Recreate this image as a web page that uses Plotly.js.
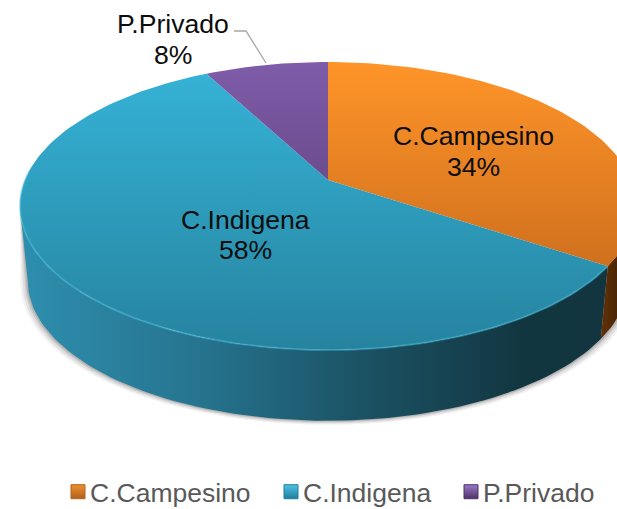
<!DOCTYPE html>
<html><head><meta charset="utf-8">
<script src="https://cdn.plot.ly/plotly-3.0.1.min.js"></script>
<style>html,body{margin:0;padding:0;background:#fff;overflow:hidden;height:509px}#c{width:617px;height:516px}</style></head>
<body><div id="c"></div>
<script>
const categories = ["C.Campesino","C.Indigena","P.Privado"];
const values = [34.4,57.9,7.7];
const topGrad = [["#ff9529","#bd6119"],["#36b4d8","#26839f"],["#7f5ca9","#523368"]];
const legendTop = ["#f0912f","#4fc3e4","#9a78c8"];
const legendBottom = ["#b0601c","#1f7f9c","#4d3268"];
const legendTextX = [90,303,483];
const sideBlue = [[0,"#2e8eae"],[0.3,"#26748f"],[0.55,"#1c5568"],[0.85,"#123640"],[1,"#123540"]];
const sideOrange = [[0,"#6b3608"],[1,"#4a2607"]];
const labelX = [473,245,173];
const labelNameY = [136,220,24];
const labelPctY = [167,250,55];
const view = {cx:328,cy:180,a:303,b:139.3,k:0.1806,depth:75,shrink:0.975};

function rim(phiDeg,lower){
  const p=phiDeg*Math.PI/180,u=Math.cos(p),v=Math.sin(p),d=1+view.k*v;
  const s=lower?view.shrink:1,y0=view.cy+(lower?view.depth:0);
  return [view.cx+s*view.a*u/d, y0-s*view.b*v/d];
}
function arc(from,to,lower){
  const n=Math.max(2,Math.ceil(Math.abs(to-from)/1.5)),xs=[],ys=[];
  for(let i=0;i<=n;i++){const q=rim(from+(to-from)*i/n,lower);xs.push(q[0]);ys.push(q[1]);}
  return [xs,ys];
}
function wall(from,to,grad,start,stop){
  const [tx,ty]=arc(from,to,false),[bx,by]=arc(to,from,true);
  return {x:tx.concat(bx),y:ty.concat(by),mode:"lines",fill:"toself",line:{width:0},
    fillgradient:{type:"horizontal",start:start,stop:stop,colorscale:grad},hoverinfo:"skip",showlegend:false};
}
const total=values.reduce((s,v)=>s+v,0);
const boundary=90-values[0]/total*360; // orange / blue split on the rim
const silhouette=-180+Math.asin(view.k)*180/Math.PI; // where the rim is widest on the left
let angle=90;
const slices=[];
categories.forEach((c,i)=>{
  const sweep=values[i]/total*360,start=angle,end=angle-sweep;angle=end;
  const [rx,ry]=arc(start,end,false);
  slices.push({x:[view.cx].concat(rx,[view.cx]),y:[view.cy].concat(ry,[view.cy]),mode:"lines",fill:"toself",line:{width:0},
    fillgradient:{type:"vertical",start:62,stop:350,colorscale:[[0,topGrad[i][0]],[1,topGrad[i][1]]]},hoverinfo:"skip",showlegend:false});
});
const shadows=[[7,0.05],[5,0.07],[3,0.09],[1.5,0.12]].map(([g,o])=>{
  const [x,y]=arc(silhouette,0,true),[tx,ty]=arc(0,silhouette,false);
  return {x:x.map(v=>view.cx+(v-view.cx)*(1+g/300)).concat(tx),y:y.map(v=>v+g*0.6).concat(ty),mode:"lines",fill:"toself",line:{width:0},fillcolor:"rgba(0,0,0,"+o+")",hoverinfo:"skip",showlegend:false};
});
const walls=[wall(boundary,silhouette,sideBlue,22,612),wall(boundary,8,sideOrange,595,617)];
const [ex,ey]=arc(boundary,-184,false);
const edge={x:ex,y:ey,mode:"lines",line:{width:2,color:"rgba(70,190,225,0.45)"},hoverinfo:"skip",showlegend:false};
const leader={x:[234,246,266],y:[31,31,63],mode:"lines",line:{width:1.3,color:"#a6a6a6"},hoverinfo:"skip",showlegend:false};
const legendTraces=categories.map((c,i)=>({x:[null],y:[null],name:c,mode:"markers",
  marker:{symbol:"square",size:14,color:legendTop[i],gradient:{type:"vertical",color:legendBottom[i]},line:{width:1,color:legendBottom[i]}},hoverinfo:"skip",showlegend:true}));
const annotations=[];
categories.forEach((c,i)=>{
  annotations.push({x:labelX[i],y:labelNameY[i],text:c,showarrow:false,xanchor:"center",yanchor:"middle",font:{size:26.6,color:"#0d0d0d"}});
  annotations.push({x:labelX[i],y:labelPctY[i],text:Math.round(values[i])+"%",showarrow:false,xanchor:"center",yanchor:"middle",font:{size:26.6,color:"#0d0d0d"}});
});
const hidden=r=>({range:r,visible:false,fixedrange:true});
Plotly.newPlot("c",shadows.concat(walls,slices,[edge,leader],legendTraces),{
  width:617,height:516,margin:{l:0,r:0,t:0,b:0},paper_bgcolor:"#fff",plot_bgcolor:"#fff",
  font:{family:"'Liberation Sans',Arial,sans-serif"},
  xaxis:hidden([0,617]),yaxis:hidden([516,0]),
  annotations:annotations,
  legend:{orientation:"h",x:0.08,y:0,xanchor:"left",yanchor:"bottom",itemwidth:30,font:{size:26.5,color:"#595959"},bgcolor:"rgba(0,0,0,0)"}
},{displayModeBar:false,staticPlot:true}).then(gd=>{
  // tighten the legend: swatches sit right beside their labels, as in the reference
  const box=gd.querySelector(".legend .scrollbox");
  if(box) box.removeAttribute("clip-path");
  gd.querySelectorAll(".legend .traces").forEach((t,i)=>{
    const m=/translate\(([-\d.]+),\s*([-\d.]+)\)/.exec(t.getAttribute("transform")||"");
    const txt=t.querySelector("text.legendtext");
    if(!m||!txt) return;
    const dx=legendTextX[i]-txt.getBoundingClientRect().left;
    t.setAttribute("transform","translate("+(parseFloat(m[1])+dx)+","+m[2]+")");
    const pts=t.querySelector(".legendpoints");
    if(pts) pts.setAttribute("transform","translate(8,0)");
  });
});
</script></body></html>
